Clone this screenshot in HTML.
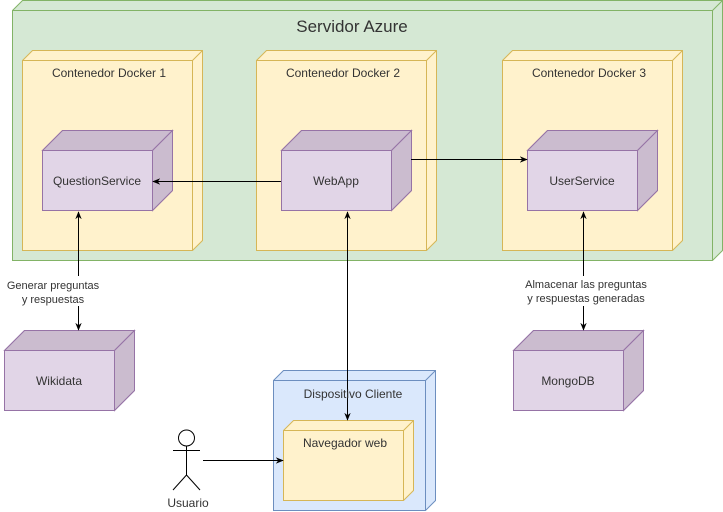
<!DOCTYPE html>
<html><head><meta charset="utf-8"><style>body{margin:0;background:#fff}svg{display:block}text{font-family:"Liberation Sans",Arial,sans-serif;font-size:12px;fill:#333}</style></head><body>
<svg width="723" height="512" viewBox="0 0 723 512">
<defs><marker id="a" viewBox="0 0 10 10" refX="9" refY="5" markerWidth="8" markerHeight="8" orient="auto-start-reverse"><path d="M0,1 L10,5 L0,9 L3,5 Z" fill="#000"/></marker>
<g id="c" stroke="#9673a6"><path d="M0,20 L20,0 L130,0 L130,60 L110,80 L0,80Z" fill="#e1d5e7"/><path d="M0,20 L20,0 L130,0 L110,20Z" fill="#cbbccf"/><path d="M110,20 L130,0 L130,60 L110,80Z" fill="#cbbccf"/></g>
</defs>
<g stroke-width="1">
<path d="M12.5,10.5 L22.5,0.5 L722.5,0.5 L722.5,250.5 L712.5,260.5 L12.5,260.5 Z" fill="#d5e8d4" stroke="#82b366"/>
<path d="M12.5,10.5 L712.5,10.5 L722.5,0.5 M712.5,10.5 L712.5,260.5" fill="none" stroke="#82b366"/>
<g fill="#fff2cc" stroke="#d6b656">
<path d="M22.5,60.5 L32.5,50.5 L202.5,50.5 L202.5,240.5 L192.5,250.5 L22.5,250.5Z"/><path d="M22.5,60.5 L192.5,60.5 L202.5,50.5 M192.5,60.5 L192.5,250.5" fill="none"/>
<path d="M256.5,60.5 L266.5,50.5 L436.5,50.5 L436.5,240.5 L426.5,250.5 L256.5,250.5Z"/><path d="M256.5,60.5 L426.5,60.5 L436.5,50.5 M426.5,60.5 L426.5,250.5" fill="none"/>
<path d="M502.5,60.5 L512.5,50.5 L682.5,50.5 L682.5,240.5 L672.5,250.5 L502.5,250.5Z"/><path d="M502.5,60.5 L672.5,60.5 L682.5,50.5 M672.5,60.5 L672.5,250.5" fill="none"/>
<path d="M273.5,380.5 L283.5,370.5 L435.5,370.5 L435.5,500.5 L425.5,510.5 L273.5,510.5Z" fill="#dae8fc" stroke="#6c8ebf"/><path d="M273.5,380.5 L425.5,380.5 L435.5,370.5 M425.5,380.5 L425.5,510.5" fill="none" stroke="#6c8ebf"/>
<path d="M283.5,430.5 L293.5,420.5 L413.5,420.5 L413.5,490.5 L403.5,500.5 L283.5,500.5Z"/><path d="M283.5,430.5 L403.5,430.5 L413.5,420.5 M403.5,430.5 L403.5,500.5" fill="none"/>
</g>
</g>
<use href="#c" transform="translate(42.5,130.5)"/>
<use href="#c" transform="translate(281.5,130.5)"/>
<use href="#c" transform="translate(527.5,130.5)"/>
<use href="#c" transform="translate(4.5,330.5)"/>
<use href="#c" transform="translate(513.5,330.5)"/>
<g stroke="#000" fill="none">
<line x1="281" y1="181.5" x2="153" y2="181.5" marker-end="url(#a)"/>
<line x1="411" y1="159.5" x2="527" y2="159.5" marker-end="url(#a)"/>
<line x1="347.5" y1="212" x2="347.5" y2="420" marker-start="url(#a)" marker-end="url(#a)"/>
<line x1="78.5" y1="212" x2="78.5" y2="330" marker-start="url(#a)" marker-end="url(#a)"/>
<line x1="583.5" y1="212" x2="583.5" y2="330" marker-start="url(#a)" marker-end="url(#a)"/>
<line x1="203" y1="460.5" x2="283" y2="460.5" marker-end="url(#a)"/>
<circle cx="186.5" cy="438" r="8"/>
<path d="M186.5,446 V475 M173,450.5 H200 M186.5,475 L173,490 M186.5,475 L200,490"/>
</g>
<rect x="0" y="276" width="156" height="30" fill="#fff"/>
<rect x="522" y="276" width="126" height="30" fill="#fff"/>
<text x="352" y="32" text-anchor="middle" style="font-size:17px">Servidor Azure</text>
<text x="109" y="77" text-anchor="middle">Contenedor Docker 1</text>
<text x="343" y="77" text-anchor="middle">Contenedor Docker 2</text>
<text x="589" y="77" text-anchor="middle">Contenedor Docker 3</text>
<text x="97" y="185" text-anchor="middle">QuestionService</text>
<text x="336" y="185" text-anchor="middle">WebApp</text>
<text x="582" y="185" text-anchor="middle">UserService</text>
<text x="59" y="385" text-anchor="middle">Wikidata</text>
<text x="568" y="385" text-anchor="middle">MongoDB</text>
<text x="353" y="398" text-anchor="middle">Dispositivo Cliente</text>
<text x="345" y="447" text-anchor="middle">Navegador web</text>
<text x="188" y="507" text-anchor="middle">Usuario</text>
<text x="53" y="289" text-anchor="middle" style="font-size:11px">Generar preguntas</text>
<text x="53" y="303" text-anchor="middle" style="font-size:11px">y respuestas</text>
<text x="586" y="288" text-anchor="middle" style="font-size:11px">Almacenar las preguntas</text>
<text x="586" y="302" text-anchor="middle" style="font-size:11px">y respuestas generadas</text>
</svg>
</body></html>
